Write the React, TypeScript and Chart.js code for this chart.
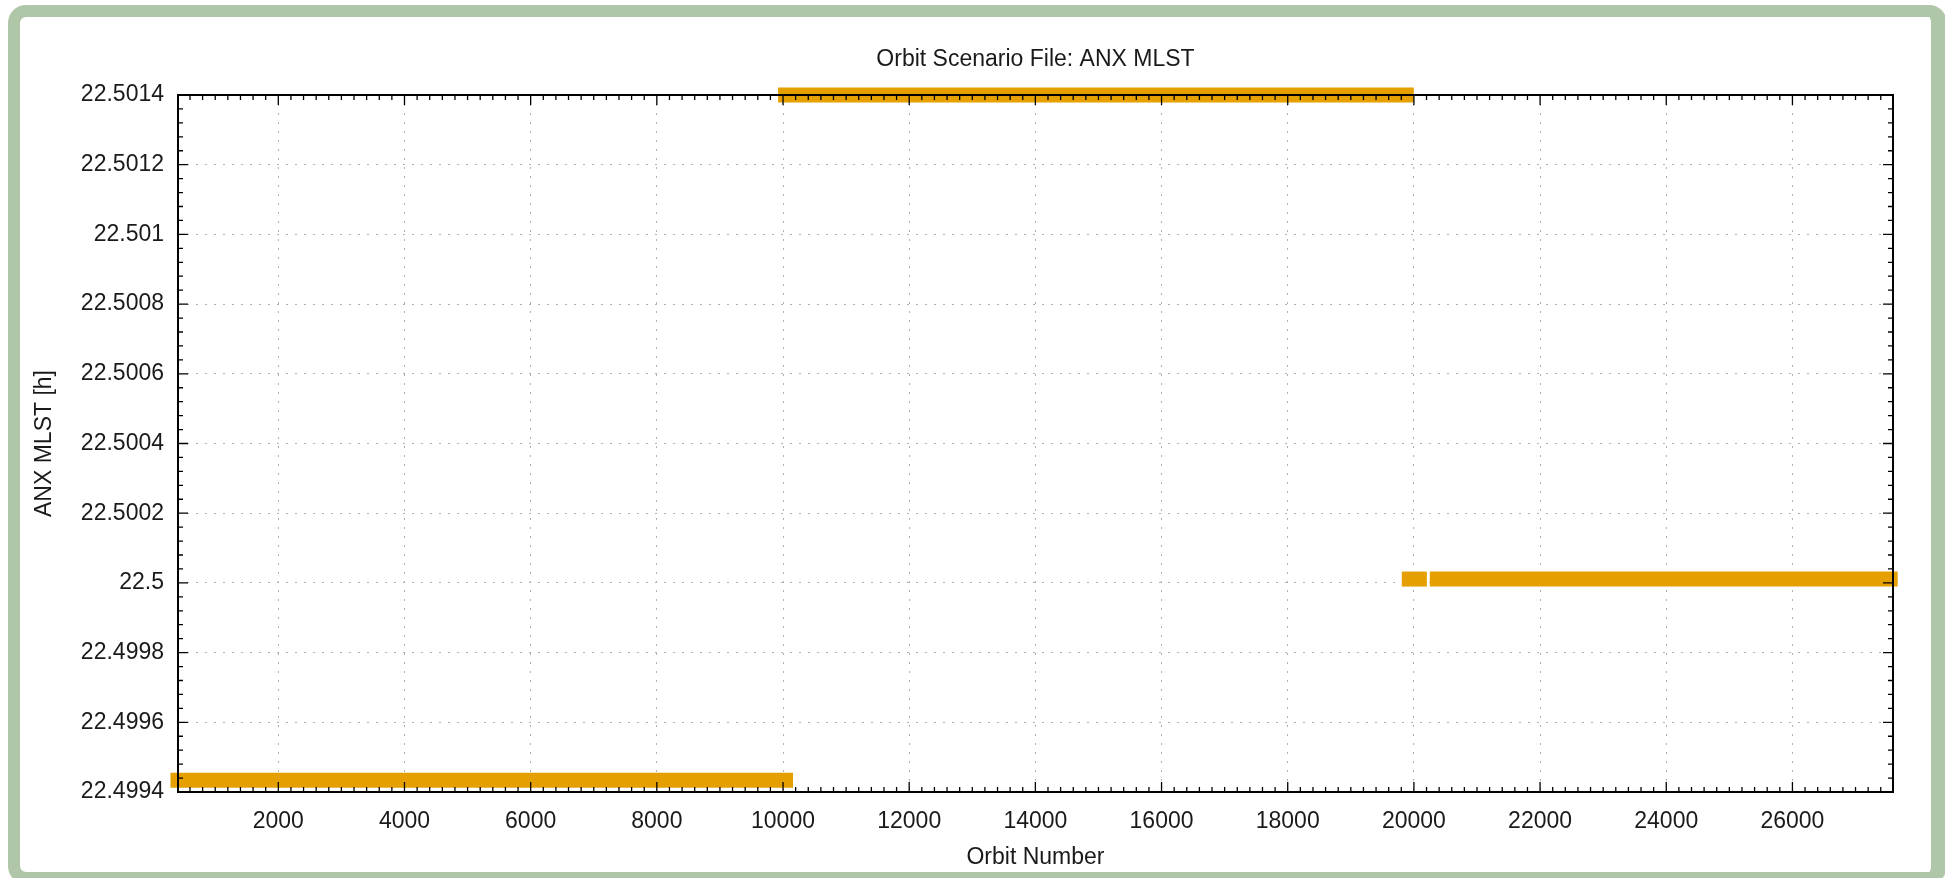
import { useEffect, useRef } from "react";
import { Chart, registerables } from "chart.js";

Chart.register(...registerables);

// ---- text ----
const TITLE = "Orbit Scenario File: ANX MLST";
const X_LABEL = "Orbit Number";
const Y_LABEL = "ANX MLST [h]";

// ---- data (orbit ranges with constant ANX MLST) ----
const segmentStartOrbit = [410, 10040, 19927, 20371];
const segmentEndOrbit = [10040, 19880, 20086, 27550];
const segmentMlst = [22.499434, 22.5014, 22.500011, 22.500011];

// ---- axes ----
const X_MIN = 410;
const X_MAX = 27594;
const Y_MIN = 22.4994;
const Y_MAX = 22.5014;
const xTicks = [2000, 4000, 6000, 8000, 10000, 12000, 14000, 16000, 18000, 20000, 22000, 24000, 26000];
const yTicks = [22.4994, 22.4996, 22.4998, 22.5, 22.5002, 22.5004, 22.5006, 22.5008, 22.501, 22.5012, 22.5014];
const X_MINOR_STEP = 200;
const Y_MINOR_COUNT = 50; // minor tick intervals across the y range

const LINE_COLOR = "#E69F00";
const TEXT_COLOR = "#1a1a1a";
const GRID_COLOR = "#b0b0b0";
const FRAME_GREEN = "#b0c6a9";

function pickFont(): { family: string; size: number } {
  try {
    const ctx = document.createElement("canvas").getContext("2d")!;
    ctx.font = "100px monospace";
    const a = ctx.measureText("Orbit Scenario File").width;
    ctx.font = '100px "Liberation Sans Narrow", monospace';
    const b = ctx.measureText("Orbit Scenario File").width;
    if (Math.abs(a - b) > 1) return { family: '"Liberation Sans Narrow"', size: 27.5 };
  } catch (e) {
    /* ignore */
  }
  return { family: '"Liberation Sans", Arial, sans-serif', size: 23 };
}

const framePlugin = {
  id: "gnuplotFrame",
  afterDatasetsDraw(chart: any) {
    const { ctx, chartArea } = chart;
    const { left, right, top, bottom } = chartArea;
    const xs = chart.scales.x;
    const ys = chart.scales.y;
    const MAJOR = 10;
    const MINOR = 5;
    ctx.save();
    ctx.strokeStyle = "#000";
    ctx.lineWidth = 1.3;
    ctx.setLineDash([]);
    ctx.beginPath();
    for (let v = Math.ceil(X_MIN / X_MINOR_STEP) * X_MINOR_STEP; v <= X_MAX; v += X_MINOR_STEP) {
      const px = xs.getPixelForValue(v);
      ctx.moveTo(px, bottom);
      ctx.lineTo(px, bottom - MINOR);
      ctx.moveTo(px, top);
      ctx.lineTo(px, top + MINOR);
    }
    for (const v of xTicks) {
      const px = xs.getPixelForValue(v);
      ctx.moveTo(px, bottom);
      ctx.lineTo(px, bottom - MAJOR);
      ctx.moveTo(px, top);
      ctx.lineTo(px, top + MAJOR);
    }
    for (let i = 0; i <= Y_MINOR_COUNT; i++) {
      const v = Y_MIN + ((Y_MAX - Y_MIN) * i) / Y_MINOR_COUNT;
      const py = ys.getPixelForValue(v);
      ctx.moveTo(left, py);
      ctx.lineTo(left + MINOR, py);
      ctx.moveTo(right, py);
      ctx.lineTo(right - MINOR, py);
    }
    for (const v of yTicks) {
      const py = ys.getPixelForValue(v);
      ctx.moveTo(left, py);
      ctx.lineTo(left + MAJOR, py);
      ctx.moveTo(right, py);
      ctx.lineTo(right - MAJOR, py);
    }
    ctx.stroke();
    ctx.lineWidth = 2;
    ctx.strokeRect(left, top, right - left, bottom - top);
    ctx.restore();
  },
};

const CANVAS_W = 1911;
const CANVAS_H = 855;

export default function App() {
  const ref = useRef<HTMLCanvasElement>(null);

  useEffect(() => {
    const f = pickFont();
    const size = f.size;
    const tickLH = size * 1.2;

    const datasets = segmentMlst.map((m, i) => ({
      label: `segment ${i + 1}`,
      data: [
        { x: segmentStartOrbit[i], y: m },
        { x: segmentEndOrbit[i], y: m },
      ],
      showLine: true,
      borderColor: LINE_COLOR,
      backgroundColor: LINE_COLOR,
      borderWidth: 15,
      borderCapStyle: "square" as const,
      pointRadius: 0,
      pointHoverRadius: 0,
      clip: false as any,
    }));

    const chart = new Chart(ref.current!, {
      type: "scatter",
      data: { datasets },
      options: {
        animation: false,
        responsive: false,
        events: [],
        layout: { padding: { left: 0, right: 38, top: 0, bottom: 0 } },
        plugins: {
          legend: { display: false },
          tooltip: { enabled: false },
          title: {
            display: true,
            fullSize: false,
            text: TITLE,
            color: TEXT_COLOR,
            font: { family: f.family, size, weight: "normal", lineHeight: 1.2 },
            padding: { top: 28.5, bottom: 78 - 28.5 - tickLH },
          },
        },
        scales: {
          x: {
            type: "linear",
            min: X_MIN,
            max: X_MAX,
            afterBuildTicks: (scale: any) => {
              scale.ticks = xTicks.map((v) => ({ value: v }));
            },
            afterFit: (scale: any) => {
              scale.height = 80;
            },
            ticks: {
              color: TEXT_COLOR,
              font: { family: f.family, size, lineHeight: 1.2 },
              padding: 805 - 775 - tickLH / 2,
              maxRotation: 0,
              autoSkip: false,
              callback: (v: any) => String(v),
            },
            grid: {
              color: GRID_COLOR,
              lineWidth: 1,
              drawTicks: false,
              tickLength: 0,
            },
            border: { display: false, dash: [2, 7] },
            title: {
              display: true,
              text: X_LABEL,
              color: TEXT_COLOR,
              font: { family: f.family, size, lineHeight: 1 },
              padding: { top: 0, bottom: Math.max(0, 855 - 841 - size / 2) },
            },
          },
          y: {
            type: "linear",
            min: Y_MIN,
            max: Y_MAX,
            afterBuildTicks: (scale: any) => {
              scale.ticks = yTicks.map((v) => ({ value: v }));
            },
            afterFit: (scale: any) => {
              scale.width = 158;
            },
            ticks: {
              color: TEXT_COLOR,
              font: { family: f.family, size, lineHeight: 1.2 },
              padding: 14,
              autoSkip: false,
              callback: (v: any) => String(Number(Number(v).toFixed(4))),
            },
            grid: {
              color: GRID_COLOR,
              lineWidth: 1,
              drawTicks: false,
              tickLength: 0,
            },
            border: { display: false, dash: [2, 7] },
            title: {
              display: true,
              text: Y_LABEL,
              color: TEXT_COLOR,
              font: { family: f.family, size, lineHeight: 1 },
              padding: { top: 25 - size / 2, bottom: 0 },
            },
          },
        },
      },
      plugins: [framePlugin],
    });
    return () => chart.destroy();
  }, []);

  return (
    <div
      style={{
        position: "fixed",
        left: 8,
        top: 5,
        width: CANVAS_W,
        height: CANVAS_H,
        borderStyle: "solid",
        borderColor: FRAME_GREEN,
        borderWidth: "12px 16px 12px 12px",
        borderRadius: 18,
        background: "#fff",
        boxSizing: "content-box",
      }}
    >
      <canvas
        ref={ref}
        width={CANVAS_W}
        height={CANVAS_H}
        style={{ display: "block", width: CANVAS_W, height: CANVAS_H }}
      />
    </div>
  );
}
